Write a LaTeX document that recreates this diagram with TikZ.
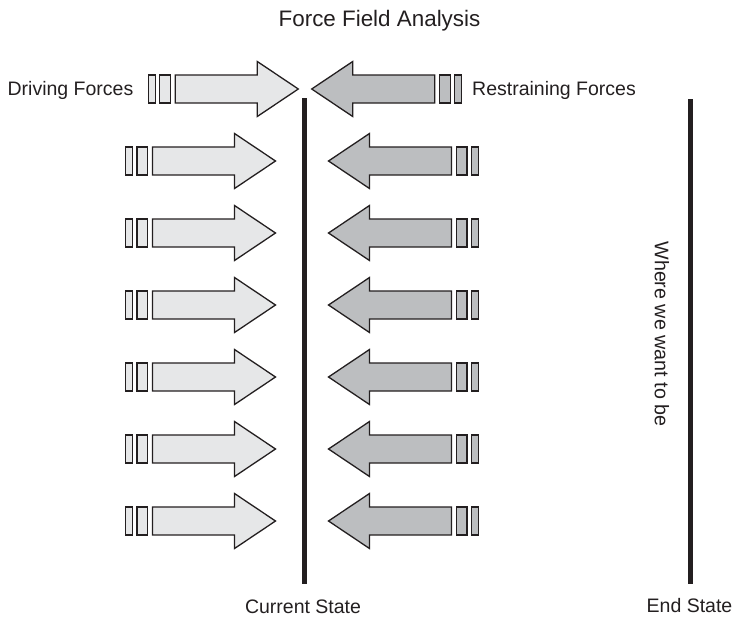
\documentclass[tikz,border=0pt]{standalone}
\usepackage{fontspec}
\setmainfont{Liberation Sans}
\definecolor{ink}{HTML}{231F20}
\definecolor{drivefill}{HTML}{E6E7E8}
\definecolor{restrainfill}{HTML}{BCBEC0}
\tikzset{
  force/.pic={
    % arrow with its tip at the origin, pointing right, plus two trailing bars
    \draw[pic actions] (0,0) -- (-41,-27.5) -- (-41,-14) -- (-123,-14)
      -- (-123,14) -- (-41,14) -- (-41,27.5) -- cycle;
    \draw[pic actions] (-128,-14) rectangle (-138.5,14);
    \draw[pic actions] (-143,-14) rectangle (-150,14);
  },
  drivearrow/.style={draw=ink, fill=drivefill, line width=1.3pt, line join=miter},
  restrainarrow/.style={draw=ink, fill=restrainfill, line width=1.3pt, line join=miter, xscale=-1},
  stateline/.style={draw=ink, line width=5pt},
  label/.style={text=ink, inner sep=0pt, font=\fontsize{19.5}{19.5}\selectfont},
}
\begin{document}
\begin{tikzpicture}[x=1pt,y=-1pt]
  \useasboundingbox (0,0) rectangle (735,616);

  % title and side labels
  \node[label, anchor=base, font=\fontsize{22.4}{22.4}\selectfont] (title) at (379.5,26.7) {Force Field Analysis};
  \node[label, anchor=base east] (driving) at (133.5,95.7) {Driving Forces};
  \node[label, anchor=base west] (restraining) at (472,95.7) {Restraining Forces};

  % top pair of forces
  \pic[drivearrow] at (298.3,89) {force};
  \pic[restrainarrow] at (311.7,89) {force};

  % six rows of opposing forces
  \foreach \y in {161,233,305,377,449,521} {
    \pic[drivearrow] at (275.5,\y) {force};
    \pic[restrainarrow] at (328.5,\y) {force};
  }

  % current state and end state
  \coordinate (cur top) at (304,98);
  \coordinate (cur bot) at (304,583.5);
  \coordinate (end top) at (690.5,99);
  \coordinate (end bot) at (690.5,584);
  \draw[stateline] (cur top) -- (cur bot);
  \draw[stateline] (end top) -- (end bot);

  \node[label, anchor=base] (current) at (303,613) {Current State};
  \node[label, anchor=base] (endstate) at (689.5,612) {End State};
  \node[label, rotate=-90, font=\fontsize{19.7}{19.7}\selectfont] (goal) at (662,334) {Where we want to be};
\end{tikzpicture}
\end{document}
